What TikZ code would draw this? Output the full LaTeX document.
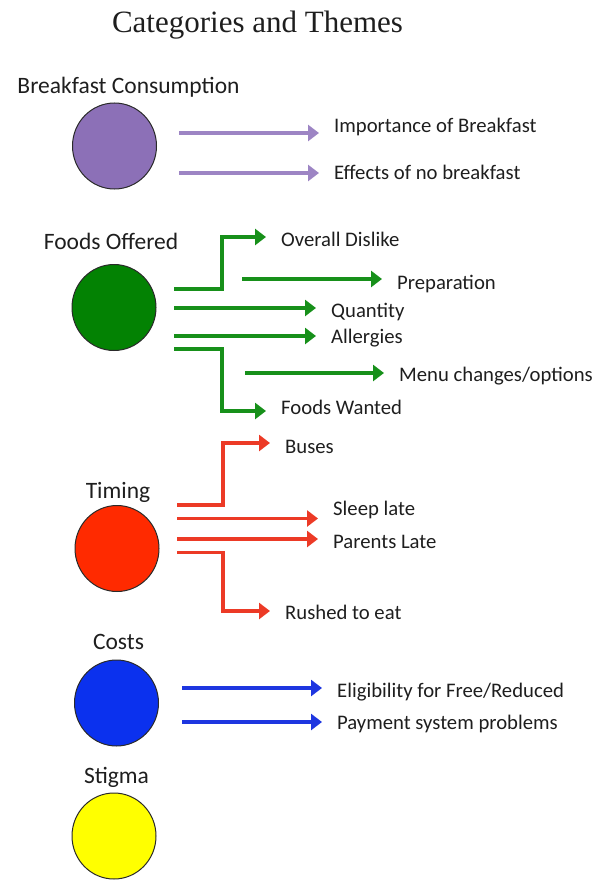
\documentclass[tikz,border=0pt]{standalone}
\usepackage{fontspec}
\setmainfont{Carlito}
\newfontfamily\titlefont{Liberation Serif}
\usepackage{tikz}
\usetikzlibrary{arrows.meta, positioning, calc, shapes.geometric}
\definecolor{inkOne}{HTML}{1E1E1E}
\definecolor{rimc}{HTML}{2A2A2A}
\definecolor{catPurple}{HTML}{8C70B7}
\definecolor{catGreen}{HTML}{038203}
\definecolor{catRed}{HTML}{FF2A00}
\definecolor{catBlue}{HTML}{0B31EE}
\definecolor{catYellow}{HTML}{FFFF00}
\definecolor{arrPurple}{HTML}{9D85C4}
\definecolor{arrGreen}{HTML}{17901A}
\definecolor{arrRed}{HTML}{EC3A26}
\definecolor{arrBlue}{HTML}{1E36E0}
\tikzset{
  cat/.style={ellipse, draw=rimc, line width=1pt, minimum width=84pt, minimum height=86pt, inner sep=0pt},
  catname/.style={font=\fontsize{23.5}{28}\selectfont, text=inkOne, inner sep=0pt, text height=15.2pt,
    text depth=0pt},
  theme/.style={font=\fontsize{20.7}{25}\selectfont, text=inkOne, anchor=west, inner xsep=15pt, inner ysep=0pt,
    text height=13.3pt, text depth=0pt},
  arr/.style={-{Triangle[length=11pt, width=16pt]}, line width=3.5pt},
}

\begin{document}
\begin{tikzpicture}[x=1pt, y=-1pt]
  \useasboundingbox (0,0) rectangle (594,880);
  % \thm{name}{tip x}{text y}{label}
  \newcommand{\thm}[4]{\node[theme] (#1) at (#2,#3) {#4};}
  \node[font=\titlefont\fontsize{31}{36}\selectfont, text=inkOne, inner sep=0pt, text height=20.5pt, text depth=0pt]
    (title) at (257.5,22) {Categories and Themes};
  % ---- breakfast consumption
  \node[catname] (bcName) at (128.5,86) {Breakfast Consumption};
  \node[cat, fill=catPurple] (bc) at (114.5,146) {};
  \thm{bcT1}{319}{125.5}{Importance of Breakfast}
  \thm{bcT2}{319}{173}{Effects of no breakfast}
  \coordinate (bcA) at (179,133);
  \coordinate (bcB) at (179,173);
  \foreach \c/\l in {bcA/bcT1, bcB/bcT2}
    \draw[arr, arrPurple] (\c) -- (\c -| \l.west);
  % ---- foods offered
  \node[catname] (foName) at (111,242) {Foods Offered};
  \node[cat, fill=catGreen] (fo) at (114,307.5) {};
  \thm{foT1}{266}{240}{Overall Dislike}
  \thm{foT2}{382}{283}{Preparation}
  \thm{foT3}{316}{311}{Quantity}
  \thm{foT4}{316}{337}{Allergies}
  \thm{foT5}{384}{375}{Menu changes/options}
  \thm{foT6}{266}{408}{Foods Wanted}
  \coordinate (foA) at (174,289); \coordinate (foAk) at (222,237);
  \coordinate (foB) at (242,279);
  \coordinate (foC) at (174,308);
  \coordinate (foD) at (174,336);
  \coordinate (foE) at (245,373);
  \coordinate (foF) at (174,349); \coordinate (foFk) at (222,411);
  \draw[arr, arrGreen] (foA) -| (foAk) -- (foAk -| foT1.west);
  \draw[arr, arrGreen] (foF) -| (foFk) -- (foFk -| foT6.west);
  \foreach \c/\l in {foB/foT2, foC/foT3, foD/foT4, foE/foT5}
    \draw[arr, arrGreen] (\c) -- (\c -| \l.west);
  % ---- timing
  \node[catname] (tiName) at (118,491) {Timing};
  \node[cat, fill=catRed] (ti) at (117,548.5) {};
  \thm{tiT1}{270}{447}{Buses}
  \thm{tiT2}{318}{509}{Sleep late}
  \thm{tiT3}{318}{542}{Parents Late}
  \thm{tiT4}{270}{613}{Rushed to eat}
  \coordinate (tiA) at (177,505); \coordinate (tiAk) at (223,443);
  \coordinate (tiB) at (177,518.5);
  \coordinate (tiC) at (177,539);
  \coordinate (tiD) at (177,552.5); \coordinate (tiDk) at (223,611);
  \draw[arr, arrRed] (tiA) -| (tiAk) -- (tiAk -| tiT1.west);
  \draw[arr, arrRed] (tiD) -| (tiDk) -- (tiDk -| tiT4.west);
  \foreach \c/\l in {tiB/tiT2, tiC/tiT3}
    \draw[arr, arrRed] (\c) -- (\c -| \l.west);
  % ---- costs
  \node[catname] (coName) at (118.5,642) {Costs};
  \node[cat, fill=catBlue] (co) at (116.5,703) {};
  \thm{coT1}{322}{691}{Eligibility for Free/Reduced}
  \thm{coT2}{322}{723}{Payment system problems}
  \coordinate (coA) at (182,688);
  \coordinate (coB) at (182,722);
  \foreach \c/\l in {coA/coT1, coB/coT2}
    \draw[arr, arrBlue] (\c) -- (\c -| \l.west);
  % ---- stigma
  \node[catname] (stName) at (116.5,776) {Stigma};
  \node[cat, fill=catYellow] (st) at (114,836) {};
\end{tikzpicture}
\end{document}
